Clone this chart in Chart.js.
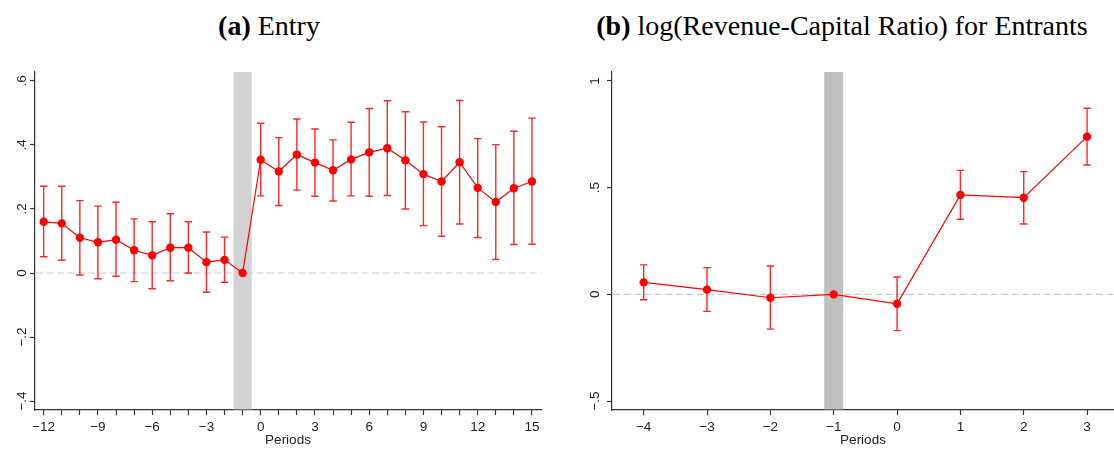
<!DOCTYPE html>
<html>
<head>
<meta charset="utf-8">
<script src="https://cdn.jsdelivr.net/npm/chart.js@4.4.0/dist/chart.umd.min.js"></script>
<style>
  html, body { margin:0; padding:0; background:#fff; }
  #wrap { position:relative; width:1114px; height:450px; overflow:hidden; }
  canvas { position:absolute; top:0; }
  .ttl { position:absolute; top:12px; font:28px "Liberation Serif", "Times New Roman", serif; line-height:28px; color:#000; text-align:center; white-space:nowrap; }
  .ttl b { font-weight:bold; }
</style>
</head>
<body>
<div id="wrap">
  <div class="ttl" style="left:119px;width:300px;"><b>(a)</b> Entry</div>
  <div class="ttl" style="left:542px;width:600px;"><b>(b)</b> log(Revenue-Capital Ratio) for Entrants</div>
  <canvas id="entryChart" width="557" height="450" style="left:0"></canvas>
  <canvas id="ratioChart" width="557" height="450" style="left:557px"></canvas>
</div>
<script>
// ---- (a) Entry ----
const entryPeriods = [-12,-11,-10,-9,-8,-7,-6,-5,-4,-3,-2,-1,0,1,2,3,4,5,6,7,8,9,10,11,12,13,14,15];
const entryCoef = [0.160,0.155,0.110,0.096,0.104,0.071,0.055,0.079,0.079,0.034,0.041,0,
                   0.354,0.317,0.370,0.345,0.321,0.355,0.377,0.390,0.352,0.309,0.286,0.346,0.266,0.222,0.265,0.286];
const entryLo = [0.051,0.040,-0.006,-0.018,-0.010,-0.027,-0.049,-0.024,0.000,-0.060,-0.029,null,
                 0.241,0.211,0.259,0.240,0.225,0.241,0.240,0.242,0.200,0.148,0.115,0.153,0.111,0.042,0.089,0.090];
const entryHi = [0.271,0.271,0.226,0.209,0.221,0.169,0.160,0.185,0.160,0.128,0.112,null,
                 0.468,0.423,0.481,0.450,0.416,0.471,0.514,0.538,0.504,0.472,0.457,0.539,0.420,0.401,0.443,0.484];
const entryXTicks = [-12,-9,-6,-3,0,3,6,9,12,15];
const entryXLabels = ["\u221212","\u22129","\u22126","\u22123","0","3","6","9","12","15"];
const entryYTicks = [-0.4,-0.2,0,0.2,0.4,0.6];
const entryYLabels = ["\u2212.4","\u2212.2","0",".2",".4",".6"];
const entryBand = [-1.5,-0.5];

// ---- (b) log(Revenue-Capital Ratio) ----
const ratioPeriods = [-4,-3,-2,-1,0,1,2,3];
const ratioCoef = [0.056,0.022,-0.016,0,-0.044,0.466,0.453,0.739];
const ratioLo = [-0.025,-0.080,-0.163,null,-0.170,0.352,0.330,0.606];
const ratioHi = [0.138,0.125,0.133,null,0.081,0.581,0.575,0.872];
const ratioXTicks = [-4,-3,-2,-1,0,1,2,3];
const ratioXLabels = ["\u22124","\u22123","\u22122","\u22121","0","1","2","3"];
const ratioYTicks = [-0.5,0,0.5,1];
const ratioYLabels = ["\u2212.5","0",".5","1"];
const ratioBand = [-1.15,-0.85];

const AXIS = "#333";
const TXT = "#222";
const RED = "#ff0000";
const tickFont = { family: "Liberation Sans", size: 13.5 };

// band, dashed zero line, error bars, rotated y labels
const stataBits = {
  id: "stataBits",
  beforeDatasetsDraw(chart, args, o) {
    const { ctx, chartArea: a, scales: { x, y } } = chart;
    ctx.save();
    const x0 = x.getPixelForValue(o.band[0]), x1 = x.getPixelForValue(o.band[1]);
    ctx.fillStyle = o.bandColor;
    ctx.fillRect(x0, a.top, x1 - x0, a.bottom - a.top - 0.6);

    const y0 = y.getPixelForValue(0);
    ctx.strokeStyle = "#cccccc";
    ctx.lineWidth = 1.2;
    ctx.setLineDash([7, 3.5]);
    ctx.beginPath(); ctx.moveTo(a.left + 1, y0); ctx.lineTo(a.right, y0); ctx.stroke();
    ctx.setLineDash([]);

    ctx.strokeStyle = "rgba(255,0,0,0.85)";
    ctx.lineWidth = 1.4;
    o.periods.forEach((p, i) => {
      if (o.lo[i] == null) return;
      const px = x.getPixelForValue(p);
      const yl = y.getPixelForValue(o.lo[i]), yh = y.getPixelForValue(o.hi[i]);
      ctx.beginPath();
      ctx.moveTo(px, yl); ctx.lineTo(px, yh);
      ctx.moveTo(px - 3.7, yl); ctx.lineTo(px + 3.7, yl);
      ctx.moveTo(px - 3.7, yh); ctx.lineTo(px + 3.7, yh);
      ctx.stroke();
    });
    ctx.restore();
  },
  afterDraw(chart, args, o) {
    const { ctx, scales: { y } } = chart;
    ctx.save();
    ctx.font = '13.5px "Liberation Sans"';
    ctx.fillStyle = TXT;
    ctx.textAlign = "center";
    ctx.textBaseline = "alphabetic";
    o.yTicks.forEach((v, i) => {
      ctx.save();
      ctx.translate(o.labelX, y.getPixelForValue(v));
      ctx.rotate(-Math.PI / 2);
      ctx.fillText(o.yLabels[i], 0, 0);
      ctx.restore();
    });
    ctx.restore();
  }
};

function makeChart(id, d) {
  return new Chart(document.getElementById(id), {
    type: "line",
    data: {
      datasets: [{
        data: d.periods.map((p, i) => ({ x: p, y: d.coef[i] })),
        borderColor: RED,
        borderWidth: 1.2,
        pointRadius: 4.2,
        pointBackgroundColor: RED,
        pointBorderWidth: 0,
        tension: 0
      }]
    },
    options: {
      responsive: false,
      animation: false,
      devicePixelRatio: 1,
      layout: { autoPadding: false, padding: { top: 72, right: d.padRight, bottom: 0, left: 0 } },
      plugins: {
        legend: { display: false },
        tooltip: { enabled: false },
        stataBits: {
          band: d.band, bandColor: d.bandColor, periods: d.periods, lo: d.lo, hi: d.hi,
          yTicks: d.yTicks, yLabels: d.yLabels, labelX: d.labelX
        }
      },
      scales: {
        x: {
          type: "linear",
          min: d.xMin, max: d.xMax,
          afterBuildTicks: s => { s.ticks = d.xMinor.map(v => ({ value: v })); },
          afterFit: s => { s.height = 40; },
          ticks: {
            autoSkip: false, maxRotation: 0, minRotation: 0, padding: 4,
            font: tickFont, color: TXT,
            callback: v => { const k = d.xTicks.indexOf(v); return k >= 0 ? d.xLabels[k] : ""; }
          },
          grid: { drawOnChartArea: false, drawTicks: true, tickLength: 5, tickColor: AXIS, tickWidth: 1.2 },
          border: { display: true, color: AXIS, width: 1.2 },
          title: { display: true, text: "Periods", font: tickFont, color: TXT, padding: { top: 0, bottom: 2 } }
        },
        y: {
          type: "linear",
          min: d.yMin, max: d.yMax,
          afterBuildTicks: s => { s.ticks = d.yTicks.map(v => ({ value: v })); },
          afterFit: s => { s.width = d.yWidth; },
          ticks: { display: false },
          grid: { drawOnChartArea: false, drawTicks: true, tickLength: 5, tickColor: AXIS, tickWidth: 1.2 },
          border: { display: true, color: AXIS, width: 1.2 }
        }
      }
    },
    plugins: [stataBits]
  });
}

makeChart("entryChart", {
  periods: entryPeriods, coef: entryCoef, lo: entryLo, hi: entryHi,
  xMinor: entryPeriods, xTicks: entryXTicks, xLabels: entryXLabels,
  yTicks: entryYTicks, yLabels: entryYLabels,
  band: entryBand, bandColor: "#d2d2d2",
  xMin: -12.48, xMax: 15.5, yMin: -0.428, yMax: 0.628,
  yWidth: 35, labelX: 26, padRight: 16
});

makeChart("ratioChart", {
  periods: ratioPeriods, coef: ratioCoef, lo: ratioLo, hi: ratioHi,
  xMinor: ratioXTicks, xTicks: ratioXTicks, xLabels: ratioXLabels,
  yTicks: ratioYTicks, yLabels: ratioYLabels,
  band: ratioBand, bandColor: "#bfbfbf",
  xMin: -4.5, xMax: 3.425, yMin: -0.542, yMax: 1.042,
  yWidth: 55, labelX: 42, padRight: 0
});
</script>
</body>
</html>
